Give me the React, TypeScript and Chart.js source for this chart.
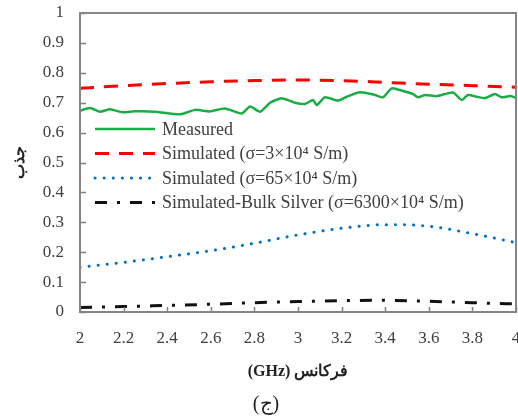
import { useEffect, useRef } from 'react';
import { Chart, registerables } from 'chart.js';

Chart.register(...registerables);

const FONT = "'Liberation Serif', 'Times New Roman', 'DejaVu Serif', serif";
const TEXT = '#404040';

// ---- data ----
const freqSim = [2.0, 2.2, 2.4, 2.6, 2.8, 3.0, 3.2, 3.4, 3.6, 3.8, 4.0];
const simLowSigma = [0.748, 0.757, 0.764, 0.77, 0.774, 0.776, 0.774, 0.768, 0.762, 0.757, 0.752];
const simMidSigma = [0.15, 0.166, 0.185, 0.205, 0.23, 0.258, 0.28, 0.292, 0.287, 0.262, 0.232];
const simBulkSilver = [0.015, 0.018, 0.022, 0.026, 0.031, 0.035, 0.038, 0.039, 0.036, 0.031, 0.027];

const freqMeasured = [
  2.0, 2.046, 2.092, 2.138, 2.193, 2.252, 2.344, 2.459, 2.528, 2.596, 2.665, 2.742, 2.78, 2.826,
  2.872, 2.925, 2.986, 3.032, 3.069, 3.086, 3.124, 3.183, 3.223, 3.284, 3.353, 3.39, 3.43, 3.482,
  3.528, 3.55, 3.583, 3.636, 3.711, 3.751, 3.78, 3.82, 3.858, 3.904, 3.934, 3.972, 4.0,
];
const measured = [
  0.673, 0.682, 0.67, 0.678, 0.668, 0.671, 0.67, 0.661, 0.676, 0.671, 0.681, 0.664, 0.687, 0.67,
  0.7, 0.715, 0.7, 0.696, 0.709, 0.692, 0.718, 0.707, 0.72, 0.735, 0.726, 0.718, 0.748, 0.739,
  0.729, 0.718, 0.726, 0.722, 0.734, 0.709, 0.726, 0.72, 0.715, 0.729, 0.718, 0.722, 0.716,
];

const xTickValues = [2, 2.2, 2.4, 2.6, 2.8, 3, 3.2, 3.4, 3.6, 3.8, 4];
const xTickLabels = ['2', '2.2', '2.4', '2.6', '2.8', '3', '3.2', '3.4', '3.6', '3.8', '4'];
const yTickValues = [0, 0.1, 0.2, 0.3, 0.4, 0.5, 0.6, 0.7, 0.8, 0.9, 1];
const yTickLabels = ['0', '0.1', '0.2', '0.3', '0.4', '0.5', '0.6', '0.7', '0.8', '0.9', '1'];

const seriesLabels = [
  'Measured',
  'Simulated (σ=3×10⁴ S/m)',
  'Simulated (σ=65×10⁴ S/m)',
  'Simulated-Bulk Silver (σ=6300×10⁴ S/m)',
];
const xTitle = '(GHz) فرکانس';
const yTitle = 'جذب';
const caption = '(ج)';

const toPoints = (xs: number[], ys: number[]) => xs.map((x, i) => ({ x, y: ys[i] }));

const decorPlugin = {
  id: 'decor',
  afterDraw(chart: any) {
    const { ctx, chartArea } = chart;
    const { left, right, top, bottom } = chartArea;
    const xs = chart.scales.x;
    const ys = chart.scales.y;
    ctx.save();
    // inward ticks
    ctx.strokeStyle = '#808080';
    ctx.lineWidth = 1.5;
    ctx.beginPath();
    xTickValues.forEach((v) => {
      const px = Math.round(xs.getPixelForValue(v)) + 0.5;
      ctx.moveTo(px, bottom);
      ctx.lineTo(px, bottom - 5);
    });
    yTickValues.forEach((v) => {
      const py = Math.round(ys.getPixelForValue(v)) + 0.5;
      ctx.moveTo(left, py);
      ctx.lineTo(left + 6, py);
    });
    ctx.stroke();
    // frame
    ctx.lineWidth = 2;
    ctx.strokeStyle = '#858585';
    ctx.strokeRect(left, top, right - left, bottom - top);

    // legend inside plot
    const lx0 = left + 15;
    const lx1 = left + 75;
    const tx = left + 82;
    const rowY0 = top + 116;
    const rowStep = 24.5;
    ctx.font = `18px ${FONT}`;
    ctx.textBaseline = 'middle';
    ctx.textAlign = 'left';
    chart.data.datasets.forEach((ds: any, i: number) => {
      const y = rowY0 + i * rowStep;
      ctx.save();
      ctx.strokeStyle = ds.borderColor;
      ctx.lineWidth = ds.borderWidth;
      ctx.lineCap = ds.borderCapStyle || 'butt';
      ctx.setLineDash(ds.borderDash || []);
      ctx.beginPath();
      ctx.moveTo(lx0, y);
      ctx.lineTo(lx1, y);
      ctx.stroke();
      ctx.restore();
      ctx.fillStyle = TEXT;
      ctx.fillText(ds.label, tx, y + 1);
    });

    // caption
    ctx.font = `20px ${FONT}`;
    ctx.fillStyle = '#222';
    ctx.textAlign = 'center';
    ctx.fillText(caption, 266, 405);
    ctx.restore();
  },
};

export default function App() {
  const ref = useRef<HTMLCanvasElement>(null);
  useEffect(() => {
    document.body.style.margin = '0';
    const canvas = ref.current!;
    const chart = new Chart(canvas, {
      type: 'line',
      data: {
        datasets: [
          {
            label: seriesLabels[0],
            data: toPoints(freqMeasured, measured),
            borderColor: '#1aad45',
            borderWidth: 2.5,
            pointRadius: 0,
            tension: 0.2,
          },
          {
            label: seriesLabels[1],
            data: toPoints(freqSim, simLowSigma),
            borderColor: '#ff0000',
            borderWidth: 3,
            borderDash: [14, 10],
            pointRadius: 0,
            cubicInterpolationMode: 'monotone',
          },
          {
            label: seriesLabels[2],
            data: toPoints(freqSim, simMidSigma),
            borderColor: '#0070c0',
            borderWidth: 3,
            borderDash: [0.1, 9],
            borderCapStyle: 'round',
            pointRadius: 0,
            cubicInterpolationMode: 'monotone',
          },
          {
            label: seriesLabels[3],
            data: toPoints(freqSim, simBulkSilver),
            borderColor: '#111111',
            borderWidth: 3,
            borderDash: [12, 10, 3, 10],
            pointRadius: 0,
            cubicInterpolationMode: 'monotone',
          },
        ],
      } as any,
      options: {
        responsive: false,
        animation: false,
        devicePixelRatio: 1,
        layout: { padding: { top: 13, right: 2, left: 0, bottom: 0 } },
        plugins: { legend: { display: false }, tooltip: { enabled: false } },
        scales: {
          x: {
            type: 'linear',
            min: 2,
            max: 4,
            grid: { display: false },
            border: { display: false },
            afterBuildTicks: (s: any) => {
              s.ticks = xTickValues.map((v) => ({ value: v }));
            },
            afterFit: (s: any) => {
              s.height = 105;
              s.paddingLeft = 0;
              s.paddingRight = 0;
            },
            ticks: {
              autoSkip: false,
              maxRotation: 0,
              padding: 8,
              color: TEXT,
              font: { family: FONT, size: 17 },
              callback: (_v: any, i: number) => xTickLabels[i],
            },
            title: {
              display: true,
              text: xTitle,
              color: '#222',
              font: { family: FONT, size: 16, weight: 'bold' },
              padding: { top: 0, bottom: 36 },
            },
          },
          y: {
            type: 'linear',
            min: 0,
            max: 1,
            grid: { display: false },
            border: { display: false },
            afterBuildTicks: (s: any) => {
              s.ticks = yTickValues.map((v) => ({ value: v }));
            },
            afterFit: (s: any) => {
              s.width = 80;
              s.paddingTop = 0;
              s.paddingBottom = 0;
            },
            ticks: {
              autoSkip: false,
              padding: 8,
              color: TEXT,
              font: { family: FONT, size: 17 },
              callback: (_v: any, i: number) => yTickLabels[i],
            },
            title: {
              display: true,
              text: yTitle,
              color: '#222',
              font: { family: FONT, size: 16, weight: 'bold' },
              padding: { top: 10, bottom: 0 },
            },
          },
        },
      } as any,
      plugins: [decorPlugin],
    });
    return () => chart.destroy();
  }, []);
  return (
    <div style={{ width: 518, height: 417 }}>
      <canvas ref={ref} width={518} height={417} style={{ display: 'block' }} />
    </div>
  );
}
